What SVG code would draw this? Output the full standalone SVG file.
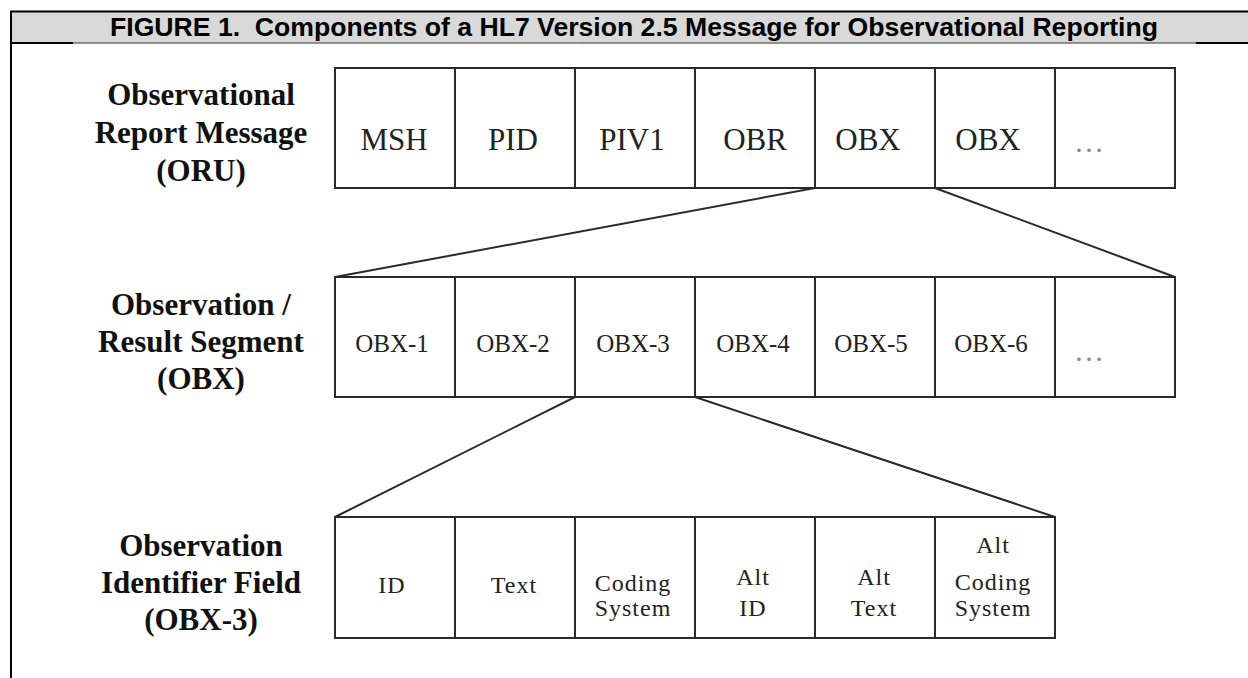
<svg xmlns="http://www.w3.org/2000/svg" width="1248" height="678" viewBox="0 0 1248 678">
<style>
.box{fill:#fff;stroke:#2a2a2a;stroke-width:2}
.conn{stroke:#2a2a2a;stroke-width:2;fill:none}
.lbl{font-family:"Liberation Serif","Times New Roman",serif;font-weight:bold;font-size:31px;fill:#111;text-anchor:middle}
.t1{font-family:"Liberation Serif","Times New Roman",serif;font-size:31px;fill:#222;text-anchor:middle}
.t2{font-family:"Liberation Serif","Times New Roman",serif;font-size:25px;fill:#222;text-anchor:middle}
.t3{font-family:"Liberation Serif","Times New Roman",serif;font-size:24px;letter-spacing:1px;fill:#222;text-anchor:middle}
.dots{font-family:"Liberation Serif","Times New Roman",serif;font-size:30px;fill:#888;text-anchor:middle}
</style>
<rect x="0" y="0" width="1248" height="678" fill="#fff"/>
<g id="frame">
<rect x="11" y="12" width="1237" height="31" fill="#d9d9d9"/>
<line x1="10" y1="11.5" x2="1248" y2="11.5" stroke="#000" stroke-width="2"/>
<line x1="11" y1="11" x2="11" y2="678" stroke="#000" stroke-width="2"/>
<line x1="11" y1="43" x2="73" y2="43" stroke="#000" stroke-width="2"/>
<line x1="73" y1="43" x2="1196" y2="43" stroke="#333" stroke-width="1"/>
<line x1="1196" y1="43" x2="1248" y2="43" stroke="#000" stroke-width="2"/>
<text x="634" y="36" font-family="Liberation Sans,Arial,sans-serif" font-weight="bold" font-size="25" text-anchor="middle" textLength="1048" lengthAdjust="spacingAndGlyphs" fill="#000">FIGURE 1.&#160; Components of a HL7 Version 2.5 Message for Observational Reporting</text>
</g>
<g id="connectors">
<line class="conn" x1="815" y1="188" x2="335" y2="277"/>
<line class="conn" x1="935" y1="188" x2="1175" y2="277"/>
<line class="conn" x1="575" y1="397" x2="335" y2="517"/>
<line class="conn" x1="695" y1="397" x2="1055" y2="517"/>
</g>
<g id="label-oru">
<text class="lbl" x="201" y="105">Observational</text>
<text class="lbl" x="201" y="143">Report Message</text>
<text class="lbl" x="201" y="181">(ORU)</text>
</g>
<g id="label-obx">
<text class="lbl" x="201" y="315">Observation /</text>
<text class="lbl" x="201" y="352">Result Segment</text>
<text class="lbl" x="201" y="389">(OBX)</text>
</g>
<g id="label-obx3">
<text class="lbl" x="201" y="556">Observation</text>
<text class="lbl" x="201" y="593">Identifier Field</text>
<text class="lbl" x="201" y="630">(OBX-3)</text>
</g>
<g id="row1-msh"><rect class="box" x="335" y="68" width="120" height="120"/><text class="t1" x="394" y="150">MSH</text></g>
<g id="row1-pid"><rect class="box" x="455" y="68" width="120" height="120"/><text class="t1" x="513" y="150">PID</text></g>
<g id="row1-piv1"><rect class="box" x="575" y="68" width="120" height="120"/><text class="t1" x="632" y="150">PIV1</text></g>
<g id="row1-obr"><rect class="box" x="695" y="68" width="120" height="120"/><text class="t1" x="755" y="150">OBR</text></g>
<g id="row1-obx-a"><rect class="box" x="815" y="68" width="120" height="120"/><text class="t1" x="868" y="150">OBX</text></g>
<g id="row1-obx-b"><rect class="box" x="935" y="68" width="120" height="120"/><text class="t1" x="988" y="150">OBX</text></g>
<g id="row1-more"><rect class="box" x="1055" y="68" width="120" height="120"/><text class="dots" x="1089" y="152">…</text></g>
<g id="row2-obx1"><rect class="box" x="335" y="277" width="120" height="120"/><text class="t2" x="392" y="352">OBX-1</text></g>
<g id="row2-obx2"><rect class="box" x="455" y="277" width="120" height="120"/><text class="t2" x="513" y="352">OBX-2</text></g>
<g id="row2-obx3"><rect class="box" x="575" y="277" width="120" height="120"/><text class="t2" x="633" y="352">OBX-3</text></g>
<g id="row2-obx4"><rect class="box" x="695" y="277" width="120" height="120"/><text class="t2" x="753" y="352">OBX-4</text></g>
<g id="row2-obx5"><rect class="box" x="815" y="277" width="120" height="120"/><text class="t2" x="871" y="352">OBX-5</text></g>
<g id="row2-obx6"><rect class="box" x="935" y="277" width="120" height="120"/><text class="t2" x="991" y="352">OBX-6</text></g>
<g id="row2-more"><rect class="box" x="1055" y="277" width="120" height="120"/><text class="dots" x="1089" y="361">…</text></g>
<g id="row3-id"><rect class="box" x="335" y="517" width="120" height="121"/><text class="t3" x="392" y="593">ID</text></g>
<g id="row3-text"><rect class="box" x="455" y="517" width="120" height="121"/><text class="t3" x="514" y="593">Text</text></g>
<g id="row3-coding"><rect class="box" x="575" y="517" width="120" height="121"/><text class="t3" x="633" y="591">Coding</text><text class="t3" x="633" y="616">System</text></g>
<g id="row3-altid"><rect class="box" x="695" y="517" width="120" height="121"/><text class="t3" x="753" y="585">Alt</text><text class="t3" x="753" y="616">ID</text></g>
<g id="row3-alttext"><rect class="box" x="815" y="517" width="120" height="121"/><text class="t3" x="874" y="585">Alt</text><text class="t3" x="874" y="616">Text</text></g>
<g id="row3-altcoding"><rect class="box" x="935" y="517" width="120" height="121"/><text class="t3" x="993" y="553">Alt</text><text class="t3" x="993" y="590">Coding</text><text class="t3" x="993" y="616">System</text></g>
</svg>
